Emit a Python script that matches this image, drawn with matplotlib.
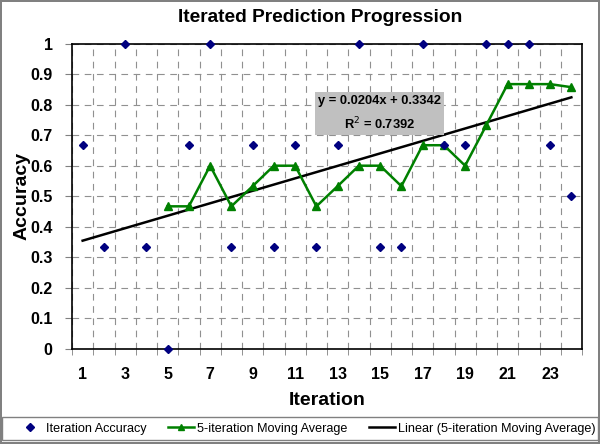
import numpy as np
import matplotlib
matplotlib.use("Agg")
import matplotlib.pyplot as plt
from matplotlib.lines import Line2D
from matplotlib.patches import Rectangle

plt.rcParams['font.family'] = ['Liberation Sans', 'DejaVu Sans']

# data
iterations = list(range(1, 25))
accuracy = [0.667, 0.333, 1.0, 0.333, 0.0, 0.667, 1.0, 0.333, 0.667, 0.333,
            0.667, 0.333, 0.667, 1.0, 0.333, 0.333, 1.0, 0.667, 0.667, 1.0,
            1.0, 1.0, 0.667, 0.5]
ma_iter = list(range(5, 25))
moving_avg = [0.467, 0.467, 0.6, 0.467, 0.533, 0.6, 0.6, 0.467, 0.533, 0.6,
              0.6, 0.533, 0.667, 0.667, 0.6, 0.733, 0.867, 0.867, 0.867, 0.857]
slope, intercept = 0.0204, 0.3342
r2 = 0.7392

fig = plt.figure(figsize=(6, 4.44), dpi=100)
fig.patch.set_edgecolor('#808080')
fig.patch.set_linewidth(1.5)
ax = fig.add_axes([72/600, 1 - 349/444, 510/600, (349 - 43.5)/444])

ax.set_xlim(0.5, 24.5)
ax.set_ylim(0, 1)

# grid: dashed gray at category boundaries and every 0.1
ax.set_xticks(np.arange(0.5, 25, 1), minor=True)
ax.set_xticks(iterations[::2])
ax.set_yticks(np.round(np.arange(0, 1.01, 0.1), 1))
ax.set_yticklabels(['0', '0.1', '0.2', '0.3', '0.4', '0.5', '0.6', '0.7', '0.8', '0.9', '1'])
ax.grid(True, which='minor', axis='x', color='#909090', linestyle=(0, (6, 5)), linewidth=0.8)
ax.grid(True, which='major', axis='y', color='#909090', linestyle=(0, (6, 5)), linewidth=0.8)
ax.tick_params(axis='x', which='major', length=0, pad=13, labelsize=11.5)
ax.tick_params(axis='x', which='minor', length=4, direction='out', color='#808080')
ax.tick_params(axis='y', length=5, direction='out', labelsize=11.5, pad=9, color='#808080')
for lab in ax.get_xticklabels() + ax.get_yticklabels():
    lab.set_fontweight('bold')
for s in ax.spines.values():
    s.set_linewidth(1.2)
    s.set_color('black')

ax.plot(iterations, accuracy, linestyle='none', marker='D', markersize=4.5,
        color='#000080', clip_on=False, zorder=5, label='Iteration Accuracy')
ax.plot(ma_iter, moving_avg, color='#008000', linewidth=1.8, marker='^',
        markersize=6, zorder=4, label='5-iteration Moving Average')
xt = np.array([1, 24])
ax.plot(xt, slope * xt + intercept, color='black', linewidth=1.8, zorder=3,
        label='Linear (5-iteration Moving Average)')

ax.text(14.97, 0.77, 'y = 0.0204x + 0.3342\nR$^2$ = 0.7392', ha='center', va='center',
        fontsize=9.3, fontweight='bold', linespacing=1.6, zorder=6,
        bbox=dict(boxstyle='square,pad=0.25', facecolor='#c0c0c0', edgecolor='none'))

fig.text(320/600, 1 - 17/444, 'Iterated Prediction Progression', ha='center', va='center',
         fontsize=13.8, fontweight='bold')
fig.text(22/600, 1 - 196/444, 'Accuracy', ha='center', va='center', rotation=90,
         fontsize=14, fontweight='bold')
fig.text(327/600, 1 - 400/444, 'Iteration', ha='center', va='center',
         fontsize=14, fontweight='bold')

# legend box across the bottom
fig.patches.append(Rectangle((2/600, 1 - 440/444), 596/600, 23/444, transform=fig.transFigure,
                             facecolor='none', edgecolor='#808080', linewidth=1))
handles = [Line2D([], [], linestyle='none', marker='D', markersize=4.5, color='#000080'),
           Line2D([], [], color='#008000', linewidth=1.8, marker='^', markersize=5),
           Line2D([], [], color='black', linewidth=1.8)]
labels = ['Iteration Accuracy', '5-iteration Moving Average', 'Linear (5-iteration Moving Average)']
leg = fig.legend(handles, labels, loc='center', bbox_to_anchor=(306/600, 1 - 428.5/444), ncol=3,
                 fontsize=9.1, frameon=False, handlelength=2.1, handletextpad=0.2,
                 columnspacing=1.7, borderpad=0.3, borderaxespad=0)

fig.savefig('out.png', dpi=100, edgecolor=fig.get_edgecolor())
